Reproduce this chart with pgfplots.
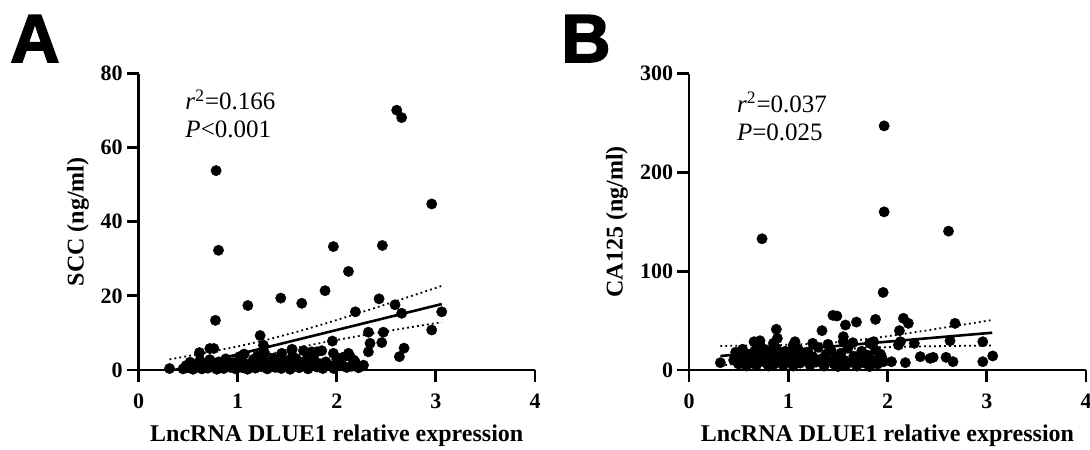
\documentclass[border=0pt]{standalone}
\usepackage{fontspec}
\setmainfont{Liberation Serif}
\newfontfamily\panelfont[FakeBold=2.5]{Liberation Sans Bold}
\usepackage{pgfplots}
\pgfplotsset{compat=1.18}

\pgfplotsset{
  scat/.style={
    scale only axis,
    width=198.25pt, height=148.25pt,
    anchor=south west,
    clip=false,
    axis x line*=bottom, axis y line*=left,
    axis line style={line width=1.4pt},
    tick style={line width=1.4pt, black},
    tick align=outside,
    major tick length=5.8pt,
    xmin=0, xmax=4, xtick={0,1,2,3,4},
    /pgf/number format/assume math mode=true,
    ticklabel style={font=\fontsize{11}{13}\selectfont\bfseries},
    xticklabel style={yshift=-2.5pt},
    yticklabel style={inner sep=2pt},
    xlabel={LncRNA DLUE1 relative expression},
    xlabel style={font=\fontsize{12}{14}\selectfont\bfseries, at={(axis description cs:0.5,0)}, anchor=base, yshift=-35.5pt},
    ylabel style={font=\fontsize{12}{14}\selectfont\bfseries, anchor=center},
  },
  dots/.style={only marks, mark=*, mark size=2.6pt, mark options={draw=black, fill=black, line width=0.2pt}},
  fit/.style={no marks, black, line width=1.3pt},
  band/.style={no marks, black, line width=0.9pt, dash pattern=on 0.9pt off 1.6pt},
}

\begin{document}
\begin{tikzpicture}
\useasboundingbox (0,0) rectangle (545pt,224.5pt);

\node[anchor=base west, font=\panelfont\fontsize{34}{36}\selectfont, inner sep=0pt] at (5pt,193.5pt) {A};
\node[anchor=base west, font=\panelfont\fontsize{34}{36}\selectfont, inner sep=0pt] at (280.5pt,193.5pt) {B};

% ---------- A: SCC ----------
\begin{axis}[scat, at={(69.25pt,39.5pt)},
  ymin=0, ymax=80, ytick={0,20,40,60,80},
  ylabel={SCC (ng/ml)},
  ylabel style={at={(axis description cs:-0.1526,0.5)}}]
\addplot[dots] coordinates {
 (2.605,70.1)(2.655,68.1)(0.783,53.8)(2.958,44.8)(0.807,32.3)(1.966,33.3)
 (2.46,33.6)(2.118,26.6)(1.882,21.4)(1.435,19.4)(1.647,18.0)(1.103,17.4)
 (2.427,19.2)(2.588,17.6)(3.059,15.7)(2.655,15.3)(2.188,15.7)(0.776,13.4)
 (2.958,10.8)(2.319,10.2)(2.47,10.2)(1.227,9.3)(1.956,7.8)(2.336,7.2)
 (2.454,7.4)(2.679,5.9)(2.632,3.6)(2.319,4.9)(1.26,6.7)(0.72,5.8)
 (0.76,5.8)(0.615,4.7)(1.066,4.3)(1.267,4.9)(1.445,4.5)(1.546,5.4)
 (1.664,5.2)(1.748,4.9)(1.849,5.2)(1.966,4.5)(2.118,4.5)(2.135,3.6)
 (2.185,2.2)(2.27,1.3)(2.03,1.1)(1.97,0.4)(0.313,0.4)(2.17,2.7)(2.05,1.3)
 (1.80,4.9)(1.55,5.6)(1.27,4.5)
 (0.45,0.3)(0.48,1.2)(0.50,0.6)(0.52,2.1)(0.55,0.2)(0.57,1.5)(0.60,0.8)
 (0.62,2.6)(0.64,0.3)(0.66,1.1)(0.68,1.9)(0.70,0.5)(0.72,2.8)(0.74,0.9)
 (0.77,1.6)(0.79,0.2)(0.81,2.2)(0.84,1.0)(0.86,0.4)(0.88,3.0)(0.90,1.4)
 (0.93,0.7)(0.95,2.0)(0.98,0.3)(1.00,1.2)(1.03,2.5)(1.05,0.6)(1.08,1.7)
 (1.10,0.2)(1.13,1.0)(1.16,2.9)(1.18,0.5)(1.21,1.6)(1.24,0.9)(1.27,2.3)
 (1.30,0.3)(1.33,1.3)(1.36,3.2)(1.38,0.7)(1.41,1.9)(1.44,0.4)(1.47,2.6)
 (1.50,1.0)(1.53,0.2)(1.56,1.8)(1.59,3.1)(1.62,0.6)(1.65,1.4)(1.68,2.4)
 (1.71,0.3)(1.74,1.1)(1.77,2.8)(1.80,0.8)(1.83,1.7)(1.86,0.4)(1.89,2.2)
 (1.92,1.3)(2.00,2.9)(2.06,3.4)(2.10,0.7)(2.15,1.0)(2.22,0.6)
 (1.02,3.6)(1.20,3.8)(1.55,3.5)(1.72,3.9)
};
\addplot[fit] coordinates {(0.364,0)(3.059,17.79)};
\addplot[band] coordinates {(0.313,2.87)(0.4,3.28)(0.7,4.74)(1.0,6.35)(1.3,8.19)(1.6,10.31)(1.9,12.66)(2.2,15.16)(2.5,17.75)(2.8,20.38)(3.059,22.69)};
\addplot[band] coordinates {(0.74,0)(1.0,2.05)(1.3,4.17)(1.6,6.01)(1.9,7.62)(2.2,9.08)(2.5,10.45)(2.8,11.78)(3.059,12.89)};
\node[anchor=base west, font=\fontsize{12.5}{14}\selectfont, inner sep=0pt] at (axis cs:0.47,70.2) {\textit{r}\textsuperscript{2}=0.166};
\node[anchor=base west, font=\fontsize{12.5}{14}\selectfont, inner sep=0pt] at (axis cs:0.47,62.6) {\textit{P}<0.001};
\end{axis}

% ---------- B: CA125 ----------
\begin{axis}[scat, at={(344.5pt,39.5pt)}, width=198.5pt,
  ymin=0, ymax=300, ytick={0,100,200,300},
  ylabel={CA125 (ng/ml)},
  ylabel style={at={(axis description cs:-0.1816,0.5)}}]
\addplot[dots] coordinates {
 (1.966,247)(1.966,160)(0.736,132.8)(2.615,140.5)(1.956,78.5)
 (1.45,55.3)(1.49,54.6)(1.687,48.5)(1.576,45.5)(1.879,51.2)
 (2.16,52.3)(2.21,47.2)(2.68,47.2)(0.88,41.2)(1.34,39.8)(2.12,39.8)
 (0.89,32)(0.655,28.6)(0.715,29.6)(1.068,28.6)(1.246,27)(1.555,33.7)
 (1.555,28.6)(1.65,27.6)(1.82,27)(1.86,28.6)(2.13,28.6)(2.11,25.3)
 (2.27,27)(2.63,29.6)(2.96,28.6)(3.06,14.2)(2.96,8.4)(2.66,8.4)
 (2.59,12.8)(2.46,12.8)(2.43,11.8)(2.33,13.5)(2.18,7.4)(2.04,8.4)
 (1.96,8.4)(1.94,13.5)(0.316,7.4)
 (0.45,10)(0.47,18)(0.5,6)(0.52,14)(0.54,21)(0.56,9)(0.58,4)(0.6,16)
 (0.62,12)(0.64,7)(0.66,19)(0.68,5)(0.7,11)(0.72,24)(0.74,15)(0.76,8)
 (0.78,20)(0.8,4)(0.82,13)(0.84,17)(0.86,6)(0.88,22)(0.9,10)(0.92,14)
 (0.95,5)(0.97,19)(1.0,9)(1.02,16)(1.05,4)(1.07,12)(1.1,21)(1.12,7)
 (1.15,15)(1.17,10)(1.2,18)(1.22,5)(1.25,13)(1.28,8)(1.3,23)(1.33,11)
 (1.36,4)(1.38,16)(1.4,9)(1.43,20)(1.46,6)(1.48,13)(1.5,3.5)(1.53,17)
 (1.56,10)(1.58,5)(1.6,22)(1.63,8)(1.66,14)(1.69,4)(1.71,11)(1.74,19)
 (1.77,7)(1.8,15)(1.82,3.5)(1.85,10)(1.88,20)(1.9,6)(1.93,16)(1.6,24)
 (1.05,25)(0.85,27)(1.4,26)
};
\addplot[fit] coordinates {(0.316,14.2)(3.055,37.7)};
\addplot[band] coordinates {(0.316,24.3)(0.6,24.7)(0.9,25.3)(1.2,26.2)(1.5,28.1)(1.8,31.4)(2.1,35.6)(2.4,40.1)(2.7,44.9)(3.055,50.6)};
\addplot[band] coordinates {(0.316,4.1)(0.6,8.6)(0.9,13.1)(1.2,17.3)(1.5,20.6)(1.8,22.5)(2.1,23.4)(2.4,24.0)(2.7,24.4)(3.055,24.8)};
\node[anchor=base west, font=\fontsize{12.5}{14}\selectfont, inner sep=0pt] at (axis cs:0.48,261) {\textit{r}\textsuperscript{2}=0.037};
\node[anchor=base west, font=\fontsize{12.5}{14}\selectfont, inner sep=0pt] at (axis cs:0.48,232.7) {\textit{P}=0.025};
\end{axis}
\end{tikzpicture}
\end{document}
